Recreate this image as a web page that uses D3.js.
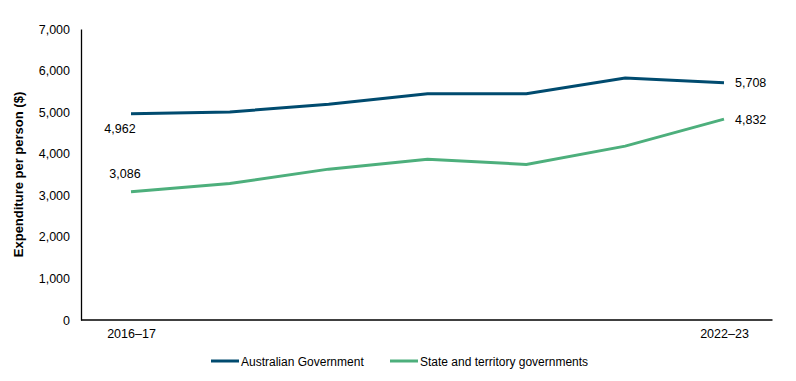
<!DOCTYPE html>
<html>
<head>
<meta charset="utf-8">
<script src="https://cdn.jsdelivr.net/npm/d3@7"></script>
<style>
  body { margin: 0; background: #fff; }
  svg { font-family: 'Liberation Sans', Arial, sans-serif; }
</style>
</head>
<body>
<svg id="chart" width="796" height="381"></svg>
<script>
// data
const years = ['2016–17', '2017–18', '2018–19', '2019–20', '2020–21', '2021–22', '2022–23']
const australianGov = [4962, 5005, 5190, 5440, 5440, 5823, 5708]
const stateGov = [3086, 3285, 3629, 3869, 3742, 4182, 4832]
const yTicks = [0, 1000, 2000, 3000, 4000, 5000, 6000, 7000]
const shownYears = ['2016–17', '2022–23']

const colors = { aus: '#004b6f', state: '#4daf7c' }
const margin = { left: 81, right: 24, top: 29, bottom: 61 }
const width = 796
const height = 381
const innerW = width - margin.left - margin.right
const innerH = height - margin.top - margin.bottom

const svg = d3.select('#chart')
const g = svg.append('g')
  .attr('transform', `translate(${margin.left},${margin.top})`)

const xScale = d3.scalePoint()
  .domain(years)
  .range([50, 643])
const yScale = d3.scaleLinear()
  .domain([0, 7000])
  .range([innerH, 0])

// axes
const yAxis = d3.axisLeft(yScale)
  .tickValues(yTicks)
  .tickFormat(d3.format(','))
  .tickSize(0)
  .tickPadding(11)
const xAxis = d3.axisBottom(xScale)
  .tickValues(shownYears)
  .tickSize(0)
  .tickPadding(9)

g.append('g')
  .attr('class', 'y axis')
  .call(yAxis)
  .call(s => s.select('.domain').attr('stroke', '#000').attr('stroke-width', 1.3))
  .call(s => s.selectAll('text').attr('font-size', 12.5).attr('fill', '#000').attr('font-family', 'Liberation Sans, Arial, sans-serif'))

g.append('g')
  .attr('class', 'x axis')
  .attr('transform', `translate(0,${innerH})`)
  .call(xAxis)
  .call(s => s.select('.domain').attr('d', `M0,0H${innerW + 0.5}`).attr('stroke', '#000').attr('stroke-width', 1.3))
  .call(s => s.selectAll('text').attr('font-size', 12.5).attr('fill', '#000').attr('font-family', 'Liberation Sans, Arial, sans-serif'))

// axis title
svg.append('text')
  .attr('transform', `translate(23,${margin.top + innerH / 2}) rotate(-90)`)
  .attr('text-anchor', 'middle')
  .attr('font-size', 13)
  .attr('font-weight', 'bold')
  .text('Expenditure per person ($)')

// lines
const line = d3.line()
  .x((d, i) => xScale(years[i]))
  .y(d => yScale(d))

const series = [
  { name: 'Australian Government', values: australianGov, color: colors.aus },
  { name: 'State and territory governments', values: stateGov, color: colors.state }
]

series.forEach(s => {
  g.append('path')
    .datum(s.values)
    .attr('d', line)
    .attr('fill', 'none')
    .attr('stroke', s.color)
    .attr('stroke-width', 3)
})

// end labels
const fmt = d3.format(',')
const first = years[0]
const last = years[years.length - 1]
g.append('text')
  .attr('x', xScale(first) - 11)
  .attr('y', yScale(australianGov[0]) + 19)
  .attr('text-anchor', 'middle')
  .attr('font-size', 12.5)
  .text(fmt(australianGov[0]))
g.append('text')
  .attr('x', xScale(first) - 6)
  .attr('y', yScale(stateGov[0]) - 14)
  .attr('text-anchor', 'middle')
  .attr('font-size', 12.5)
  .text(fmt(stateGov[0]))
g.append('text')
  .attr('x', xScale(last) + 11)
  .attr('y', yScale(australianGov[6]) + 4.5)
  .attr('font-size', 12.5)
  .text(fmt(australianGov[6]))
g.append('text')
  .attr('x', xScale(last) + 11)
  .attr('y', yScale(stateGov[6]) + 4.5)
  .attr('font-size', 12.5)
  .text(fmt(stateGov[6]))

// legend
const legend = svg.append('g').attr('transform', 'translate(211,361)')
const legendX = [0, 179]
series.forEach((s, i) => {
  const item = legend.append('g').attr('transform', `translate(${legendX[i]},0)`)
  item.append('line')
    .attr('x1', 0).attr('x2', 28)
    .attr('y1', 0).attr('y2', 0)
    .attr('stroke', s.color)
    .attr('stroke-width', 3)
  item.append('text')
    .attr('x', 30)
    .attr('y', 4.5)
    .attr('font-size', 12)
    .text(s.name)
})
</script>
</body>
</html>
